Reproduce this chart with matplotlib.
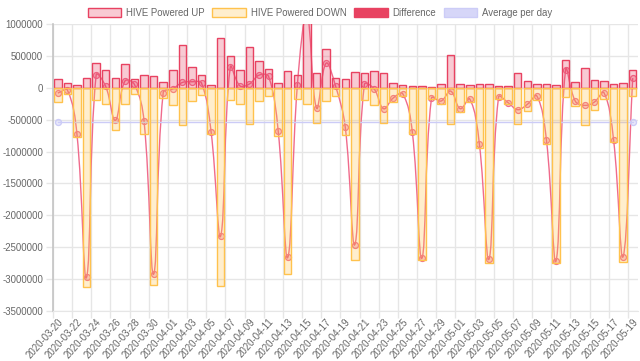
import numpy as np
import pandas as pd
import matplotlib
matplotlib.use("Agg")
import matplotlib.pyplot as plt
from matplotlib.path import Path
from matplotlib.patches import PathPatch, Patch
from matplotlib.ticker import FuncFormatter

plt.rcParams['font.family'] = ['Liberation Sans', 'DejaVu Sans']

dates = pd.date_range("2020-03-20", "2020-05-19").strftime("%Y-%m-%d").tolist()

# values in thousands
powered_up = [141, 73, 47, 151, 396, 271, 151, 365, 130, 208, 177, 89, 271, 677, 323, 193,
              47, 776, 505, 271, 635, 417, 297, 78, 260, 208, 1400, 234, 609, 151, 135, 255,
              229, 260, 229, 73, 40, 31, 26, 20, 63, 521, 52, 36, 52, 52, 26, 26, 229, 99,
              52, 63, 36, 438, 83, 307, 125, 104, 52, 73, 286]
powered_down = [-224, -94, -771, -3130, -198, -260, -667, -250, -94, -729, -3089, -161, -276,
                -589, -208, -120, -729, -3104, -188, -250, -563, -214, -130, -755, -2922, -172,
                -250, -552, -214, -130, -745, -2708, -188, -270, -552, -224, -130, -725, -2698,
                -180, -260, -563, -380, -224, -938, -2750, -172, -260, -563, -365, -185, -885,
                -2750, -146, -286, -578, -344, -172, -849, -2724, -135]
difference = [-83, -36, -729, -2974, 198, 21, -510, 104, 52, -521, -2922, -78, -16, 83, 94, 73,
              -693, -2323, 323, 31, 60, 198, 177, -677, -2661, 36, 1150, -318, 385, 21, -615,
              -2458, 52, -16, -328, -161, -94, -693, -2672, -161, -208, -52, -328, -177, -885,
              -2688, -146, -234, -344, -260, -130, -823, -2714, 286, -208, -276, -224, -78,
              -813, -2646, 151]
avg_per_day = -530

up = np.array(powered_up) * 1000.0
down = np.array(powered_down) * 1000.0
diff = np.array(difference) * 1000.0
x = np.arange(len(dates))

red = (0.91, 0.26, 0.38)
red_fill = (0.91, 0.26, 0.38, 0.28)
line_c = (0.94, 0.42, 0.55)
yel = (1.0, 0.76, 0.30)
yel_fill = (1.0, 0.76, 0.30, 0.28)
lav = (0.80, 0.80, 0.97)
grid_c = '#e6e6e6'
txt_c = '#666666'

fig = plt.figure(figsize=(6.4, 3.61), dpi=100)
ax = fig.add_axes([53 / 640, 1 - 311 / 361, (637.5 - 53) / 640, (311 - 24) / 361])

# smooth difference line (chart.js style bezier, tension 0.4)
sx, sy = 9.58, 63.8 / 1e6
px, py = x * sx, diff * sy
n = len(x)
cprev = np.zeros((n, 2))
cnext = np.zeros((n, 2))
for i in range(n):
    p, q = max(i - 1, 0), min(i + 1, n - 1)
    d01 = np.hypot(px[i] - px[p], py[i] - py[p])
    d12 = np.hypot(px[q] - px[i], py[q] - py[i])
    tot = d01 + d12 if d01 + d12 else 1
    fa, fb = 0.4 * d01 / tot, 0.4 * d12 / tot
    cprev[i] = (px[i] - fa * (px[q] - px[p]), py[i] - fa * (py[q] - py[p]))
    cnext[i] = (px[i] + fb * (px[q] - px[p]), py[i] + fb * (py[q] - py[p]))
verts = [(px[0], py[0])]
codes = [Path.MOVETO]
for i in range(n - 1):
    verts += [tuple(cnext[i]), tuple(cprev[i + 1]), (px[i + 1], py[i + 1])]
    codes += [Path.CURVE4] * 3
verts = [(a / sx, b / sy) for a, b in verts]
ax.add_patch(PathPatch(Path(verts, codes), facecolor='none', edgecolor=line_c,
                       lw=1.0, zorder=1))
ax.plot(x, diff, 'o', ls='none', ms=4.3, mfc=red_fill, mec=line_c, mew=0.9, zorder=1)

# average per day
avg = np.full(n, avg_per_day * 1000.0)
ax.plot(x, avg, color=lav, lw=1.0, marker='o', ms=4.3, markevery=[0, n - 1],
        mfc=(0.8, 0.8, 0.97, 0.4), mec=lav, zorder=1)

ax.bar(x, up, width=0.78, color=red_fill, edgecolor=red, linewidth=1.0, zorder=2)
ax.bar(x, down, width=0.78, color=yel_fill, edgecolor=yel, linewidth=1.0, zorder=2)

ax.set_xlim(-0.5, n - 0.5)
ax.set_ylim(-3500000, 1000000)
ax.set_yticks(np.arange(-3500000, 1000001, 500000))
ax.yaxis.set_major_formatter(FuncFormatter(lambda v, pos: f"{int(v)}"))
ax.set_xticks(x[::2])
ax.set_xticklabels(dates[::2], rotation=48, ha='right', rotation_mode='anchor')
ax.set_xticks(np.arange(-0.5, n, 2), minor=True)
ax.tick_params(axis='x', which='major', length=0, labelsize=6.9, labelcolor=txt_c, pad=4)
ax.tick_params(axis='x', which='minor', length=5, color=grid_c, width=1)
ax.tick_params(axis='y', length=5, color=grid_c, width=1, labelsize=6.9, labelcolor=txt_c, pad=2)
ax.grid(axis='x', which='minor', color=grid_c, lw=1, zorder=0)
ax.grid(axis='y', which='major', color=grid_c, lw=1, zorder=0)
ax.axhline(0, color='#cccccc', lw=1, zorder=0.5)
ax.set_axisbelow(True)
for s in ['top', 'right']:
    ax.spines[s].set_visible(False)
ax.spines['left'].set_color('#c4c4c4')
ax.spines['left'].set_linewidth(1.2)
ax.spines['bottom'].set_color(grid_c)

handles = [Patch(facecolor=red_fill, edgecolor=red, lw=1),
           Patch(facecolor=yel_fill, edgecolor=yel, lw=1),
           Patch(facecolor=red, edgecolor=red, lw=1),
           Patch(facecolor=(0.80, 0.80, 0.97, 0.8), edgecolor=lav, lw=1)]
labels = ["HIVE Powered UP", "HIVE Powered DOWN", "Difference", "Average per day"]
fig.legend(handles, labels, loc='upper center', bbox_to_anchor=(0.5, 0.997), ncol=4,
           frameon=False, fontsize=6.9, labelcolor=txt_c, handlelength=3.5, handleheight=1.05,
           handletextpad=0.5, columnspacing=0.8, borderaxespad=0.3)

fig.savefig("out.png", dpi=100)
